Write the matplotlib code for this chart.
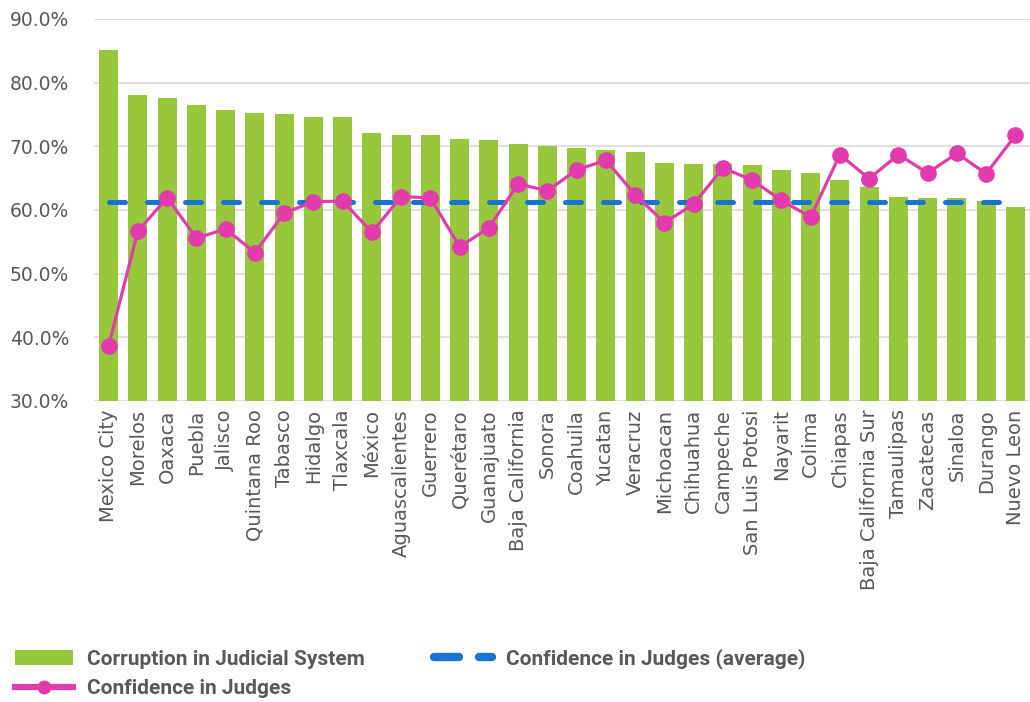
import numpy as np
import matplotlib
matplotlib.use("Agg")
from matplotlib import pyplot as plt
from matplotlib.ticker import FuncFormatter

# data
states = ["Mexico City", "Morelos", "Oaxaca", "Puebla", "Jalisco", "Quintana Roo",
          "Tabasco", "Hidalgo", "Tlaxcala", "México", "Aguascalientes", "Guerrero",
          "Querétaro", "Guanajuato", "Baja California", "Sonora", "Coahuila", "Yucatan",
          "Veracruz", "Michoacan", "Chihuahua", "Campeche", "San Luis Potosi", "Nayarit",
          "Colima", "Chiapas", "Baja California Sur", "Tamaulipas", "Zacatecas",
          "Sinaloa", "Durango", "Nuevo Leon"]

corruption = [85.2, 78.1, 77.6, 76.5, 75.7, 75.3, 75.1, 74.6, 74.6, 72.1, 71.7, 71.7,
              71.2, 71.0, 70.4, 70.1, 69.8, 69.4, 69.1, 67.3, 67.2, 67.2, 67.0, 66.2,
              65.8, 64.7, 63.6, 62.0, 61.9, 61.9, 61.4, 60.5]

confidence = [38.7, 56.7, 61.9, 55.6, 57.0, 53.3, 59.5, 61.3, 61.4, 56.5, 62.1, 61.9,
              54.2, 57.2, 64.1, 63.0, 66.3, 67.8, 62.4, 58.0, 60.9, 66.6, 64.7, 61.5,
              58.9, 68.7, 64.9, 68.7, 65.8, 68.9, 65.7, 71.7]

conf_avg = 61.3

green = "#97C83C"
pink = "#E33BAE"
blue = "#1874D2"
grey = "#595959"

plt.rcParams['font.family'] = ['Lato', 'DejaVu Sans']

fig = plt.figure(figsize=(10.3, 7.02), dpi=100)
ax = fig.add_axes([0.0913, 0.4288, 0.9087, 0.5442])

x = np.arange(len(states))
bars = ax.bar(x, corruption, width=0.65, color=green, zorder=2)
avg_line, = ax.plot(x, [conf_avg] * len(x), color=blue, lw=3.6, dashes=(3.2, 4.4),
                    dash_capstyle='round', zorder=3)
conf_line, = ax.plot(x, confidence, color=pink, lw=2.3, marker='o', markersize=11,
                     zorder=4)

ax.set_ylim(30, 90)
ax.set_xlim(-0.5, len(states) - 0.5)
ax.set_yticks(np.arange(30, 91, 10))
ax.yaxis.set_major_formatter(FuncFormatter(lambda v, p: "%.1f%%" % v))
ax.set_xticks(x)
ax.set_xticklabels(states, rotation=90)
ax.tick_params(axis='both', length=0, colors=grey)
ax.tick_params(axis='x', pad=6)
ax.tick_params(axis='y', pad=18)
for lab in ax.get_xticklabels():
    lab.set_fontfamily('DejaVu Sans')
    lab.set_fontsize(14)
for lab in ax.get_yticklabels():
    lab.set_fontfamily('DejaVu Sans')
    lab.set_fontsize(13.5)
ax.grid(axis='y', color="#D9D9D9", lw=1.2, zorder=0)
for s in ax.spines.values():
    s.set_visible(False)

leg = fig.legend([bars, conf_line, avg_line],
                 ["Corruption in Judicial System", "Confidence in Judges",
                  "Confidence in Judges (average)"],
                 ncol=2, loc='upper left', bbox_to_anchor=(-0.004, 0.103),
                 frameon=False, handlelength=2.8, handletextpad=0.67,
                 columnspacing=3.3, labelspacing=0.5,
                 prop={'family': 'Roboto', 'weight': 'bold', 'size': 15})
for t in leg.get_texts():
    t.set_color(grey)
hl = leg.legend_handles
hl[1].set_linewidth(4.5)
hl[1].set_markersize(9)
hl[2].set_linewidth(6)
hl[2].set_dashes((3.0, 2.4))

fig.savefig("out.png", dpi=100)
